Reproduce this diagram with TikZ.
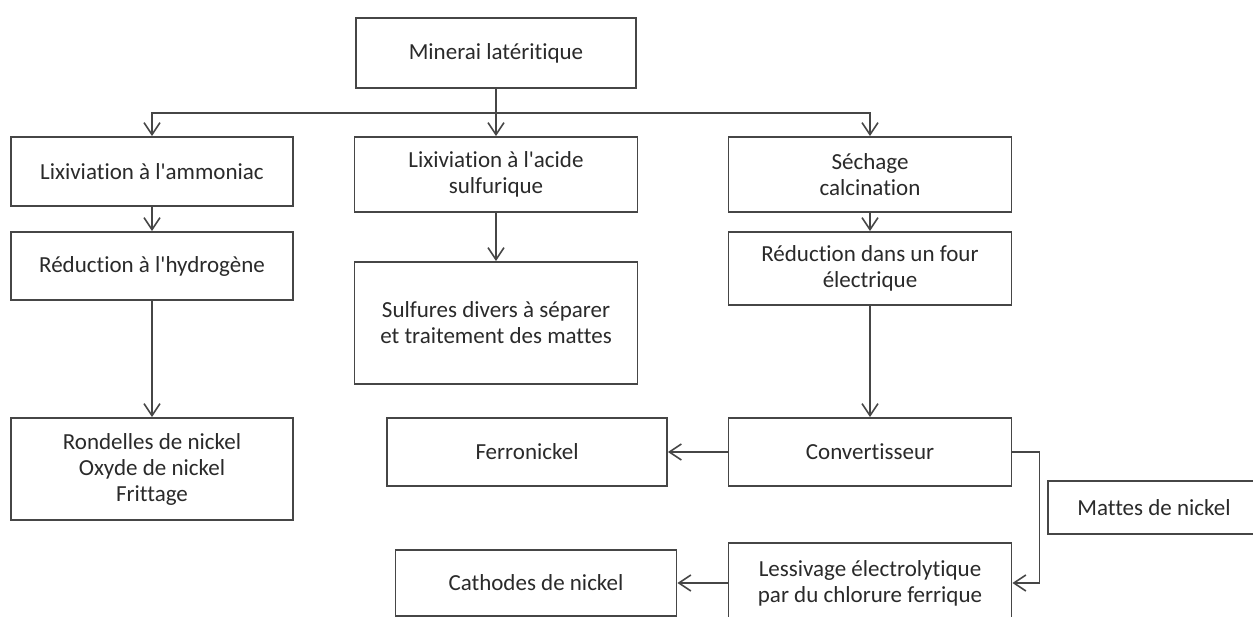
\documentclass[tikz,border=0pt]{standalone}
\usepackage{fontspec}
\newfontfamily\calfont{Carlito}[Ligatures=NoCommon]
\usetikzlibrary{arrows.meta}
\definecolor{linegray}{HTML}{464646}
\definecolor{textgray}{HTML}{2A2A2A}
\begin{document}
\begin{tikzpicture}[x=1pt,y=-1pt,
  box/.style={draw=linegray, line width=1.8pt, fill=white, rectangle, inner sep=0pt,
    align=center, text=textgray, font=\calfont\fontsize{23}{26}\selectfont},
  plain/.style={draw=linegray, line width=1.8pt},
  conn/.style={plain, -{Straight Barb[length=12pt,width=16pt,line width=1.6pt]}}]
\path[use as bounding box] (0,0) rectangle (1253,617);
\clip (0,0) rectangle (1253,617);
% nodes
\node[box, minimum width=280pt, minimum height=70pt] (mine) at (496,53) {Minerai latéritique};
\node[box, minimum width=282pt, minimum height=69pt] (lixa) at (152,171.5) {Lixiviation à l\textquotesingle ammoniac};
\node[box, minimum width=283pt, minimum height=75pt] (lixs) at (496,174.5) {Lixiviation à l\textquotesingle acide\\sulfurique};
\node[box, minimum width=283pt, minimum height=75pt] (sech) at (870,174.5) {Séchage\\calcination};
\node[box, minimum width=282pt, minimum height=68pt] (redh) at (152,266) {Réduction à l\textquotesingle hydrogène};
\node[box, minimum width=283pt, minimum height=122pt] (sulf) at (496,323) {Sulfures divers à séparer\\et traitement des mattes};
\node[box, minimum width=283pt, minimum height=73pt] (redf) at (870,268.5) {Réduction dans un four\\électrique};
\node[box, minimum width=282pt, minimum height=102pt] (rond) at (152,469) {Rondelles de nickel\\Oxyde de nickel\\Frittage};
\node[box, minimum width=283pt, minimum height=68pt] (conv) at (870,452) {Convertisseur};
\node[box, minimum width=280pt, minimum height=68pt] (ferro) at (527,452) {Ferronickel};
\node[box, minimum width=212pt, minimum height=53pt] (mattes) at (1154,507.5) {Mattes de nickel};
\node[box, minimum width=283pt, minimum height=80pt] (less) at (870,583) {Lessivage électrolytique\\par du chlorure ferrique};
\node[box, minimum width=281pt, minimum height=66pt] (cath) at (536,583) {Cathodes de nickel};
% connectors
\path (mine.south) ++(0,24) coordinate (j);
\draw[plain] (mine.south) -- (j);
\draw[conn] (j) -| (lixa.north);
\draw[conn] (j) -- (lixs.north);
\draw[conn] (j) -| (sech.north);
\draw[conn] (lixa.south) -- (redh.north);
\draw[conn] (lixs.south) -- (sulf.north);
\draw[conn] (sech.south) -- (redf.north);
\draw[conn] (redh.south) -- (rond.north);
\draw[conn] (redf.south) -- (conv.north);
\draw[conn] (conv.west) -- (ferro.east);
\draw[conn] (conv.east) -- ++(27,0) |- (less.east);
\draw[conn] (less.west) -- (cath.east);
\end{tikzpicture}
\end{document}
